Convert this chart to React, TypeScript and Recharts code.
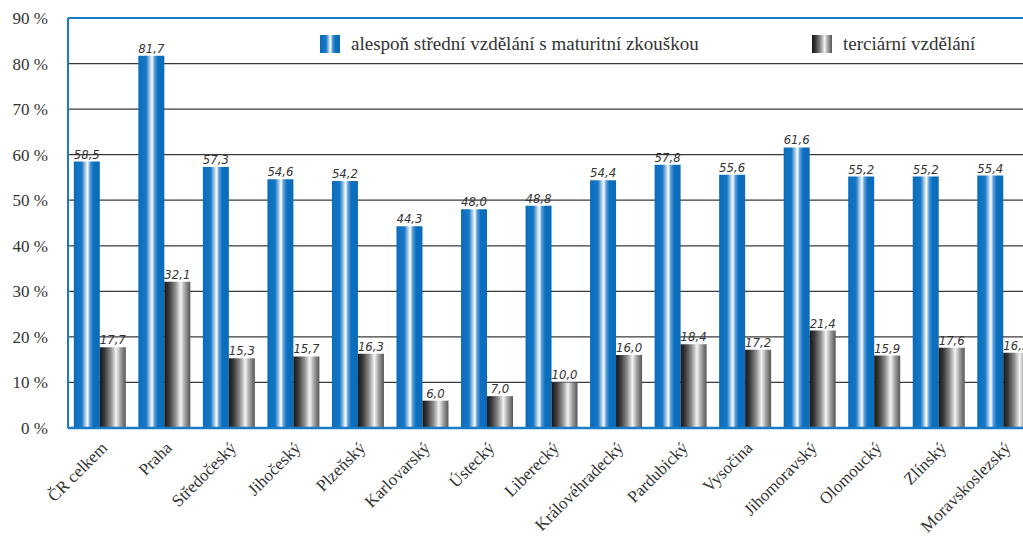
import { Bar, BarChart, CartesianGrid, LabelList, Legend, ReferenceLine, XAxis, YAxis } from 'recharts'

const regions = [
  'ČR celkem',
  'Praha',
  'Středočeský',
  'Jihočeský',
  'Plzeňský',
  'Karlovarský',
  'Ústecký',
  'Liberecký',
  'Královéhradecký',
  'Pardubický',
  'Vysočina',
  'Jihomoravský',
  'Olomoucký',
  'Zlínský',
  'Moravskoslezský',
]
const secondary = [58.5, 81.7, 57.3, 54.6, 54.2, 44.3, 48.0, 48.8, 54.4, 57.8, 55.6, 61.6, 55.2, 55.2, 55.4]
const tertiary = [17.7, 32.1, 15.3, 15.7, 16.3, 6.0, 7.0, 10.0, 16.0, 18.4, 17.2, 21.4, 15.9, 17.6, 16.5]
const yTicks = [0, 10, 20, 30, 40, 50, 60, 70, 80, 90]
const boundaryTicks = [1, 2, 3, 4, 5, 6, 7, 8, 9, 10, 11, 12, 13, 14, 15]

const seriesNames = ['alespoň střední vzdělání s maturitní zkouškou', 'terciární vzdělání']

const data = regions.map((name, i) => ({ name, secondary: secondary[i], tertiary: tertiary[i] }))

const BLUE = '#1b7cc6'
const SERIF = "'Liberation Serif', 'DejaVu Serif', serif"
const NARROW = "'DejaVu Sans Condensed', 'Liberation Sans Narrow', sans-serif"

const blueGrad =
  'linear-gradient(to right, #0a6dbb 0%, #1677c4 30%, #cfe0f4 48%, #ffffff 53%, #5a9fdb 62%, #0b6fbe 75%, #0a6cba 100%)'
const grayGrad =
  'linear-gradient(to right, #161616 0%, #3a3a3a 18%, #8c8c8c 42%, #f4f4f4 63%, #a0a0a0 80%, #555 100%)'

const fmt = (v: number) => v.toFixed(1).replace('.', ',')

function RegionTick(props: any) {
  const { x, y, payload } = props
  return (
    <g transform={`translate(${x + 8},${y + 13})`}>
      <text
        x={0}
        y={0}
        textAnchor="end"
        transform="rotate(-45)"
        fontFamily={SERIF}
        fontSize={17}
        fill="#333"
      >
        {payload.value}
      </text>
    </g>
  )
}

function renderLegend() {
  const item = (grad: string, label: string, left: number) => (
    <div style={{ position: 'absolute', left, top: 0, display: 'flex', alignItems: 'center' }}>
      <span style={{ width: 20, height: 18, background: grad, marginRight: 11 }} />
      <span style={{ fontFamily: SERIF, fontSize: 19, color: '#333', whiteSpace: 'nowrap' }}>{label}</span>
    </div>
  )
  return (
    <div style={{ position: 'relative', width: 1000, height: 22 }}>
      {item(blueGrad, seriesNames[0], 320)}
      {item(grayGrad, seriesNames[1], 812)}
    </div>
  )
}

export default function App() {
  return (
    <div style={{ position: 'absolute', left: 0, top: 0, width: 1023, height: 539, overflow: 'hidden', background: '#fff' }}>
      <BarChart
        width={1040}
        height={539}
        data={data}
        margin={{ top: 18, right: 4, bottom: 0, left: 0 }}
        barCategoryGap="9%"
        barGap={0}
      >
        <defs>
          <linearGradient id="blueBar" x1="0" y1="0" x2="1" y2="0">
            <stop offset="0%" stopColor="#0a6dbb" />
            <stop offset="30%" stopColor="#1677c4" />
            <stop offset="48%" stopColor="#cfe0f4" />
            <stop offset="53%" stopColor="#ffffff" />
            <stop offset="62%" stopColor="#5a9fdb" />
            <stop offset="75%" stopColor="#0b6fbe" />
            <stop offset="100%" stopColor="#0a6cba" />
          </linearGradient>
          <linearGradient id="grayBar" x1="0" y1="0" x2="1" y2="0">
            <stop offset="0%" stopColor="#161616" />
            <stop offset="18%" stopColor="#3a3a3a" />
            <stop offset="42%" stopColor="#8c8c8c" />
            <stop offset="63%" stopColor="#f4f4f4" />
            <stop offset="80%" stopColor="#a0a0a0" />
            <stop offset="100%" stopColor="#555555" />
          </linearGradient>
        </defs>
        <CartesianGrid vertical={false} stroke="#3a3a3a" strokeWidth={1.2} />
        <XAxis
          dataKey="name"
          interval={0}
          height={111}
          tickLine={false}
          axisLine={{ stroke: BLUE, strokeWidth: 2.5 }}
          tick={<RegionTick />}
        />
        <XAxis
          xAxisId="bounds"
          type="number"
          domain={[0, regions.length]}
          ticks={boundaryTicks}
          interval={0}
          mirror
          height={0}
          tick={false}
          tickSize={10}
          tickLine={{ stroke: '#333', strokeWidth: 1 }}
          axisLine={false}
        />
        <YAxis
          width={68}
          domain={[0, 90]}
          ticks={yTicks}
          interval={0}
          tickLine={false}
          tickSize={0}
          tickMargin={20}
          axisLine={{ stroke: BLUE, strokeWidth: 2 }}
          tickFormatter={(v: number) => `${v} %`}
          tick={{ fontFamily: SERIF, fontSize: 17, fill: '#333' }}
        />
        <ReferenceLine y={90} stroke={BLUE} strokeWidth={2} />
        <Legend
          layout="vertical"
          verticalAlign="middle"
          align="center"
          content={renderLegend}
          wrapperStyle={{ top: 33, left: 0, width: 1000 }}
        />
        <Bar dataKey="secondary" name={seriesNames[0]} fill="url(#blueBar)" isAnimationActive={false}>
          <LabelList
            dataKey="secondary"
            position="top"
            offset={3}
            formatter={(v: any) => fmt(Number(v))}
            style={{ fontFamily: NARROW, fontStyle: 'italic', fontSize: 13, fill: '#333' }}
          />
        </Bar>
        <Bar dataKey="tertiary" name={seriesNames[1]} fill="url(#grayBar)" isAnimationActive={false}>
          <LabelList
            dataKey="tertiary"
            position="top"
            offset={3}
            formatter={(v: any) => fmt(Number(v))}
            style={{ fontFamily: NARROW, fontStyle: 'italic', fontSize: 13, fill: '#333' }}
          />
        </Bar>
      </BarChart>
    </div>
  )
}
